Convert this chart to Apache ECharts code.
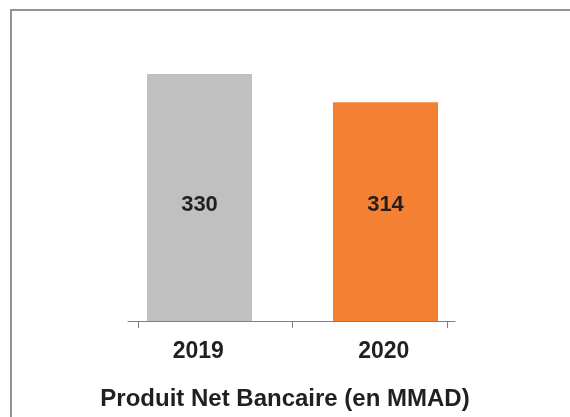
<!DOCTYPE html>
<html>
<head>
<meta charset="utf-8">
<script src="https://cdn.jsdelivr.net/npm/echarts@6/dist/echarts.min.js"></script>
<style>
  html, body { margin: 0; padding: 0; background: #fff; }
  #main { width: 570px; height: 417px; }
</style>
</head>
<body>
<div id="main"></div>
<script>
// données
var years = ['2019', '2020'];
var pnb2019 = [330, '-'];
var pnb2020 = ['-', 314];

var myChart = echarts.init(document.getElementById('main'));
var font = "'Liberation Sans', Arial, sans-serif";
var textColor = '#231f20';

var valueLabel = {
    show: true,
    position: 'insideBottom',
    distance: 105,
    fontFamily: font,
    fontSize: 22,
    fontWeight: 'bold',
    color: textColor
};

var option = {
    animation: false,
    // cadre
    graphic: [{
        type: 'rect',
        shape: { x: 11, y: 10, width: 600, height: 450 },
        style: { fill: 'none', stroke: '#8a969a', lineWidth: 2 },
        silent: true
    }],
    title: {
        text: 'Produit Net Bancaire (en MMAD)',
        left: 'center',
        top: 387,
        padding: 0,
        textStyle: {
            fontFamily: font,
            fontSize: 24,
            fontWeight: 'bold',
            color: textColor
        }
    },
    grid: [
        { left: 138, right: 123, top: 74, bottom: 96 },
        { left: 128, right: 115, top: 74, bottom: 96 }
    ],
    xAxis: [{
        type: 'category',
        gridIndex: 0,
        data: years,
        axisLine: { show: false },
        axisTick: { show: true, length: 7, lineStyle: { color: '#7f7f7f' } },
        axisLabel: {
            margin: 19,
            formatter: function (v, i) {
                return i === 0 ? '{l|' + v + '}' : '{r|' + v + '}';
            },
            rich: {
                l: { fontFamily: font, fontSize: 23, fontWeight: 'bold', color: textColor, padding: [0, 34, 0, 0] },
                r: { fontFamily: font, fontSize: 23, fontWeight: 'bold', color: textColor, padding: [0, 0, 0, 28] }
            }
        }
    }, {
        // ligne de l'axe, un peu plus longue que les graduations
        type: 'category',
        gridIndex: 1,
        data: years,
        axisLine: { show: true, lineStyle: { color: '#7f7f7f', width: 1 } },
        axisTick: { show: false },
        axisLabel: { show: false }
    }],
    yAxis: [{
        type: 'value',
        gridIndex: 0,
        min: 190,
        max: 330,
        show: false
    }, {
        type: 'value',
        gridIndex: 1,
        min: 190,
        max: 330,
        show: false
    }],
    series: [{
        name: '2019',
        type: 'bar',
        xAxisIndex: 0,
        yAxisIndex: 0,
        barWidth: 105,
        barGap: '-70%',
        itemStyle: { color: '#bfc0bf' },
        label: valueLabel,
        data: pnb2019
    }, {
        name: '2020',
        type: 'bar',
        xAxisIndex: 0,
        yAxisIndex: 0,
        barWidth: 105,
        barGap: '-70%',
        itemStyle: { color: '#f38033' },
        label: valueLabel,
        data: pnb2020
    }]
};

myChart.setOption(option);
</script>
</body>
</html>
